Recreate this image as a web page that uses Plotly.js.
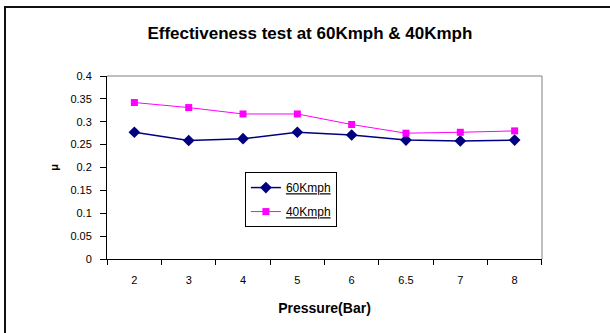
<!DOCTYPE html>
<html>
<head>
<meta charset="utf-8">
<script src="https://cdn.plot.ly/plotly-3.0.1.min.js"></script>
<style>
html,body{margin:0;padding:0;background:#fff;}
#wrap{position:relative;width:610px;height:333px;overflow:hidden;}
#chart{position:absolute;left:0;top:0;width:610px;height:333px;}
#frame{position:absolute;left:4px;top:6px;width:620px;height:340px;border-left:2px solid #111;border-top:2px solid #111;pointer-events:none;}
</style>
</head>
<body>
<div id="wrap"><div id="chart"></div><div id="frame"></div></div>
<script>
const pressure = ["2", "3", "4", "5", "6", "6.5", "7", "8"];
const mu60 = [0.277, 0.259, 0.263, 0.277, 0.271, 0.260, 0.258, 0.260];
const mu40 = [0.342, 0.331, 0.317, 0.317, 0.294, 0.275, 0.277, 0.280];
const yTickVals = [0, 0.05, 0.1, 0.15, 0.2, 0.25, 0.3, 0.35, 0.4];
const yTickText = ["0", "0.05", "0.1", "0.15", "0.2", "0.25", "0.3", "0.35", "0.4"];

const font = "Liberation Sans, Arial, sans-serif";

const traces = [
  {
    x: pressure, y: mu60, type: "scatter", mode: "lines+markers",
    name: "<u>60Kmph</u>", legendgroup: "a",
    line: {color: "#000080", width: 1.5},
    marker: {symbol: "diamond", size: 9, color: "#000080"}
  },
  {
    x: pressure, y: mu40, type: "scatter", mode: "lines+markers",
    name: "<u>40Kmph</u>", legendgroup: "b",
    line: {color: "#FF00FF", width: 1},
    marker: {symbol: "square", size: 7, color: "#FF00FF"}
  }
];

const layout = {
  width: 610, height: 333,
  margin: {l: 107, r: 68, t: 76, b: 74},
  paper_bgcolor: "#fff", plot_bgcolor: "#fff",
  font: {family: font, size: 11, color: "#000"},
  showlegend: true,
  title: {
    text: "<b>Effectiveness test at 60Kmph & 40Kmph</b>",
    font: {family: font, size: 17, color: "#000"},
    x: 0.508, xref: "container", xanchor: "center",
    y: 0.9, yref: "container", yanchor: "middle"
  },
  xaxis: {
    type: "category",
    tickson: "boundaries",
    ticks: "outside", ticklen: 5, tickcolor: "#000", tickwidth: 1,
    ticklabelstandoff: 11,
    showline: true, linecolor: "#000", linewidth: 1,
    showgrid: false, zeroline: false,
    tickfont: {family: font, size: 11, color: "#000"},
    title: {text: "<b>Pressure(Bar)</b>", font: {family: font, size: 14, color: "#000"}, standoff: 17}
  },
  yaxis: {
    range: [0, 0.4],
    tickvals: yTickVals, ticktext: yTickText,
    ticks: "outside", ticklen: 6, tickcolor: "#000", tickwidth: 1,
    ticklabelstandoff: 6,
    showline: true, linecolor: "#000", linewidth: 1,
    showgrid: false, zeroline: false,
    tickfont: {family: font, size: 11, color: "#000"},
    title: {text: "<b>μ</b>", font: {family: font, size: 11, color: "#000"}, standoff: 9}
  },
  legend: {
    x: 0.317, y: 0.475, xanchor: "left", yanchor: "top",
    bgcolor: "#fff", bordercolor: "#000", borderwidth: 1,
    font: {family: font, size: 12, color: "#000"},
    itemwidth: 30, tracegroupgap: 5
  },
  shapes: [
    {type: "line", xref: "paper", yref: "paper", x0: 0, x1: 1, y0: 1, y1: 1, line: {color: "#808080", width: 1}},
    {type: "line", xref: "paper", yref: "paper", x0: 1, x1: 1, y0: 0, y1: 1, line: {color: "#808080", width: 1}}
  ]
};

Plotly.newPlot("chart", traces, layout, {displayModeBar: false, staticPlot: true});
</script>
</body>
</html>
